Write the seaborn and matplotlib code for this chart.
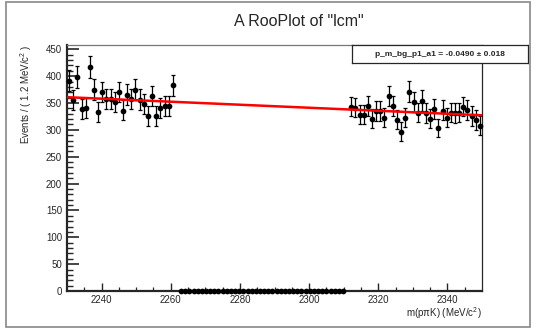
import matplotlib
matplotlib.use("Agg")
import matplotlib.pyplot as plt
import seaborn as sns
import numpy as np
import pandas as pd

# Datos
x_min, x_max = 2230, 2350
bin_width = 1.2

# cuentas por bin, region izquierda (bins 0..25)
left_counts = [391, 355, 398, 338, 340, 417, 375, 333, 370, 357, 357, 351, 370,
               336, 365, 357, 375, 356, 348, 325, 363, 325, 340, 344, 344, 383]
left_first_bin = 0
# bins vacios (region ciega), dibujados en cero
zero_bins = list(range(27, 67))
# cuentas por bin, region derecha (bins 68..99)
right_counts = [343, 341, 328, 328, 344, 320, 335, 335, 322, 363, 344, 319, 296,
                323, 371, 351, 332, 354, 331, 320, 338, 303, 336, 322, 332, 331,
                332, 343, 337, 325, 318, 307]
right_first_bin = 68

# ajuste: polinomio de Chebychev de grado 1
fit_norm = 344.0
fit_a1 = -0.0490
fit_a1_err = 0.018

bins = (list(range(left_first_bin, left_first_bin + len(left_counts)))
        + zero_bins
        + list(range(right_first_bin, right_first_bin + len(right_counts))))
counts = left_counts + [0] * len(zero_bins) + right_counts
df = pd.DataFrame({"bin": bins, "n": counts})
df["m"] = x_min + bin_width * (df["bin"] + 0.5)
df["err_lo"] = np.where(df["n"] > 0, np.sqrt(df["n"] + 0.25) - 0.5, 0)
df["err_hi"] = np.where(df["n"] > 0, np.sqrt(df["n"] + 0.25) + 0.5, 0)

xf = np.linspace(x_min, x_max, 200)
xs = 2 * (xf - x_min) / (x_max - x_min) - 1
fit = pd.DataFrame({"m": xf, "y": fit_norm * (1 + fit_a1 * xs)})

sns.set_style("ticks")
plt.rcParams["font.family"] = ["Liberation Sans", "DejaVu Sans"]
plt.rcParams["mathtext.fontset"] = "custom"
plt.rcParams["mathtext.rm"] = "Liberation Sans"
plt.rcParams["mathtext.it"] = "Liberation Sans"

fig = plt.figure(figsize=(5.36, 3.29), dpi=100)
ax = fig.add_axes([67 / 536, 38 / 329, 415 / 536, 246 / 329])

# marco del canvas
fig.patches.append(plt.Rectangle((6 / 536, 2 / 329), 524 / 536, 325 / 329,
                                 transform=fig.transFigure, fill=False,
                                 edgecolor="#888888", linewidth=1.2))

ax.errorbar(df["m"], df["n"], yerr=[df["err_lo"], df["err_hi"]], fmt="none",
            ecolor="black", elinewidth=0.9, capsize=1.3, capthick=0.9, zorder=3)
sns.scatterplot(data=df, x="m", y="n", ax=ax, color="black", s=17,
                edgecolor="black", linewidth=0, zorder=4, clip_on=False)
sns.lineplot(data=fit, x="m", y="y", ax=ax, color="red", linewidth=1.8, zorder=5)

ax.set_xlim(x_min, x_max)
ax.set_ylim(0, 458)
ax.set_xticks([2240, 2260, 2280, 2300, 2320, 2340])
ax.set_xticks(np.arange(2235, 2350, 5), minor=True)
ax.set_yticks(np.arange(0, 451, 50))
ax.set_yticks(np.arange(0, 458, 10), minor=True)
ax.tick_params(axis="both", which="both", direction="in", labelsize=7)
ax.tick_params(axis="y", which="major", length=8.5, width=1.2)
ax.tick_params(axis="y", which="minor", length=4.5, width=1.0)
ax.tick_params(axis="x", which="major", length=5.5, width=1.0, pad=3)
ax.tick_params(axis="x", which="minor", length=3, width=0.9)

for side in ["left", "bottom"]:
    ax.spines[side].set_linewidth(1.6)
for side in ["top", "right"]:
    ax.spines[side].set_linewidth(0.9)
ax.spines["top"].set_color("#777777")

ax.set_xlabel(r"m(p$\pi$K) (MeV/c$^{2}$)", fontsize=7, ha="right")
ax.xaxis.set_label_coords(1.0, -0.058)
ax.set_ylabel(r"Events / ( 1.2 MeV/c$^{2}$ )", fontsize=7, ha="right")
ax.yaxis.set_label_coords(-0.08, 1.0)

fig.text(299 / 536, 1 - 22 / 329, 'A RooPlot of "lcm"', fontsize=11.5,
         ha="center", va="center")

# caja con el parametro del ajuste
box = fig.add_axes([352 / 536, 1 - 63 / 329, 176 / 536, 18 / 329])
box.set_xticks([])
box.set_yticks([])
for s in box.spines.values():
    s.set_linewidth(0.9)
box.text(0.5, 0.5, "p_m_bg_p1_a1 = %.4f \u00b1 %.3f" % (fit_a1, fit_a1_err),
         fontsize=6, fontweight="bold", ha="center", va="center")

fig.savefig("out.png", dpi=100)
